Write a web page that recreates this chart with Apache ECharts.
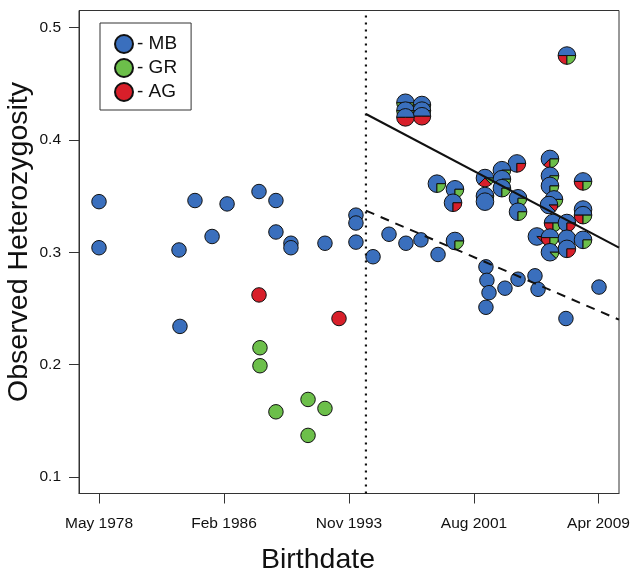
<!DOCTYPE html>
<html>
<head>
<meta charset="utf-8">
<script src="https://cdn.jsdelivr.net/npm/echarts@6/dist/echarts.min.js"></script>
<style>
  html, body { margin: 0; padding: 0; background: #fff; }
  #chart { width: 633px; height: 575px; }
</style>
</head>
<body>
<div id="chart"></div>
<script>
// Non-admixed individuals: birthdate (decimal year) and observed heterozygosity, by population
const mbYear = [1978.33, 1978.33, 1983.29, 1983.35, 1984.28, 1985.34, 1986.27, 1988.25, 1989.30, 1989.30,
                1990.23, 1990.23, 1992.34, 1994.26, 1994.26, 1994.26, 1995.32, 1996.31, 1997.36, 1998.29,
                1999.35, 2002.32, 2002.38, 2002.51, 2002.32, 2003.50, 2004.31, 2005.36, 2005.55, 2009.33,
                2007.28];
const mbHet  = [0.345, 0.304, 0.302, 0.234, 0.346, 0.314, 0.343, 0.354, 0.346, 0.318,
                0.308, 0.304, 0.308, 0.333, 0.326, 0.309, 0.296, 0.316, 0.308, 0.311,
                0.298, 0.287, 0.275, 0.264, 0.251, 0.268, 0.276, 0.279, 0.267, 0.269,
                0.241];
const grYear = [1988.31, 1988.31, 1991.29, 1989.30, 1992.34, 1991.29];
const grHet  = [0.215, 0.199, 0.169, 0.158, 0.161, 0.137];
const agYear = [1988.25, 1993.21];
const agHet  = [0.262, 0.241];

// Admixed individuals: birthdate, heterozygosity and ancestry proportions
const mixYear = [1997.33, 1997.33, 1997.33, 1998.35, 1998.35, 1998.35, 1999.28, 2000.40, 2000.28, 2000.40,
                 2002.26, 2002.26, 2002.26, 2003.31, 2003.31, 2003.31, 2004.24, 2004.31, 2004.31, 2006.29,
                 2006.29, 2006.29, 2006.54, 2006.23, 2008.34, 2008.34, 2008.34, 2006.48, 2007.34, 2005.48,
                 2006.29, 2007.34, 2008.34, 2006.29, 2007.34, 2007.34];
const mixHet  = [0.433, 0.426, 0.420, 0.431, 0.426, 0.421, 0.361, 0.356, 0.344, 0.310,
                 0.366, 0.350, 0.345, 0.373, 0.365, 0.357, 0.379, 0.348, 0.336, 0.383,
                 0.368, 0.359, 0.347, 0.342, 0.363, 0.338, 0.333, 0.326, 0.326, 0.314,
                 0.313, 0.312, 0.311, 0.300, 0.303, 0.475];
const mixMB   = [0.5, 0.5, 0.5, 0.5, 0.5, 0.5, 0.75, 0.75, 0.75, 0.75,
                 0.625, 0.875, 1, 0.75, 0.75, 0.75, 0.75, 0.75, 0.75, 0.625,
                 0.75, 0.75, 0.75, 0.875, 0.5, 1, 0.5, 0.5, 0.75, 0.875,
                 0.5, 1, 0.75, 0.875, 0.75, 0.5];
const mixGR   = [0.5, 0.5, 0, 0.5, 0.5, 0, 0.25, 0.25, 0, 0.25,
                 0.125, 0.125, 0, 0.25, 0.25, 0.25, 0, 0.25, 0.25, 0.25,
                 0.25, 0.25, 0.25, 0, 0.25, 0, 0.25, 0.25, 0, 0,
                 0.25, 0, 0.25, 0.125, 0, 0.25];
const mixAG   = [0, 0, 0.5, 0, 0, 0.5, 0, 0, 0.25, 0,
                 0.25, 0, 0, 0, 0, 0, 0.25, 0, 0, 0.125,
                 0, 0, 0, 0.125, 0.25, 0, 0.25, 0.25, 0.25, 0.125,
                 0.25, 0, 0, 0, 0.25, 0.25];

// Axis ticks
const xTickYears  = [1978.33, 1986.08, 1993.83, 2001.58, 2009.30];
const xTickLabels = ['May 1978', 'Feb 1986', 'Nov 1993', 'Aug 2001', 'Apr 2009'];
const yTicks = [0.1, 0.2, 0.3, 0.4, 0.5];

// Breakpoint and fitted trends after it
const breakYear = 1994.88;
const trendYears = [1994.88, 2010.57];
const trendAdmixed = [0.423, 0.304];
const trendPure = [0.337, 0.240];

const X_MIN = 1977.09, X_MAX = 2010.57;
const Y_MIN = 0.0853, Y_MAX = 0.5151;

const BLUE = '#3a6fbd', GREEN = '#6cbf4a', RED = '#d81f2a';
const FONT = '"Liberation Sans", Arial, Helvetica, sans-serif';

const pairs = (xs, ys) => xs.map((x, i) => [x, ys[i]]);

// Pies are drawn from highest to lowest so lower ones overlap upper ones
const mixData = mixYear.map((x, i) => [x, mixHet[i], mixMB[i], mixGR[i], mixAG[i]])
  .sort((a, b) => b[1] - a[1]);

function renderPie(params, api) {
  const c = api.coord([api.value(0), api.value(1)]);
  const r = 8.8;
  // slices run counter-clockwise from east: MB, AG, GR
  const fr = [api.value(2), api.value(4), api.value(3)];
  const cols = [BLUE, RED, GREEN];
  const children = [];
  let a = 0;
  for (let i = 0; i < 3; i++) {
    if (fr[i] <= 0) continue;
    if (fr[i] >= 0.999) {
      children.push({ type: 'circle', shape: { cx: c[0], cy: c[1], r: r },
        style: { fill: cols[i], stroke: '#111', lineWidth: 1 } });
      continue;
    }
    const sweep = fr[i] * Math.PI * 2;
    children.push({
      type: 'sector',
      shape: { cx: c[0], cy: c[1], r: r, r0: 0, startAngle: -a, endAngle: -(a + sweep), clockwise: false },
      style: { fill: cols[i], stroke: '#111', lineWidth: 1, lineJoin: 'round' }
    });
    a += sweep;
  }
  return { type: 'group', children: children };
}

const pointStyle = (color) => ({ color: color, borderColor: '#111', borderWidth: 1, opacity: 1 });

const chart = echarts.init(document.getElementById('chart'), null, { renderer: 'canvas' });

chart.setOption({
  animation: false,
  backgroundColor: '#fff',
  textStyle: { fontFamily: FONT },
  grid: {
    left: 79, right: 14, top: 10.5, bottom: 81.5,
    show: true, borderColor: '#333', borderWidth: 1, backgroundColor: 'transparent'
  },
  legend: {
    data: ['MB', 'GR', 'AG'],
    orient: 'vertical',
    left: 100, top: 23,
    padding: [11, 14, 8, 14],
    itemWidth: 18, itemHeight: 18, itemGap: 4,
    borderColor: '#333', borderWidth: 1,
    icon: 'circle',
    formatter: '- {name}',
    textStyle: { fontSize: 19, color: '#111', fontFamily: FONT, padding: [0, 0, 0, -1] }
  },
  xAxis: {
    type: 'value', min: X_MIN, max: X_MAX,
    axisLine: { show: true, onZero: false, lineStyle: { color: '#333', width: 1 } },
    axisTick: { show: true, length: 10, customValues: xTickYears, lineStyle: { color: '#333' } },
    axisLabel: {
      customValues: xTickYears, margin: 22, fontSize: 15.5, color: '#111', fontFamily: FONT,
      formatter: (v) => {
        let best = 0;
        xTickYears.forEach((t, i) => { if (Math.abs(t - v) < Math.abs(xTickYears[best] - v)) best = i; });
        return xTickLabels[best];
      }
    },
    splitLine: { show: false }
  },
  yAxis: {
    type: 'value', min: Y_MIN, max: Y_MAX,
    axisLine: { show: true, onZero: false, lineStyle: { color: '#333', width: 1 } },
    axisTick: { show: true, length: 10, customValues: yTicks, lineStyle: { color: '#333' } },
    axisLabel: {
      customValues: yTicks, margin: 18, fontSize: 15.5, color: '#111', fontFamily: FONT,
      formatter: (v) => v.toFixed(1)
    },
    splitLine: { show: false }
  },
  graphic: [
    { type: 'text', x: 318, y: 560, style: { text: 'Birthdate', fontSize: 28.5, fontFamily: FONT, fill: '#111',
        textAlign: 'center', textVerticalAlign: 'middle' } },
    { type: 'text', x: 19, y: 242, rotation: Math.PI / 2,
      style: { text: 'Observed Heterozygosity', fontSize: 28.5, fontFamily: FONT, fill: '#111',
        textAlign: 'center', textVerticalAlign: 'middle' } }
  ],
  series: [
    { name: 'MB', type: 'scatter', symbol: 'circle', symbolSize: 14.5, data: pairs(mbYear, mbHet),
      itemStyle: pointStyle(BLUE), z: 3 },
    { name: 'GR', type: 'scatter', symbol: 'circle', symbolSize: 14.5, data: pairs(grYear, grHet),
      itemStyle: pointStyle(GREEN), z: 3 },
    { name: 'AG', type: 'scatter', symbol: 'circle', symbolSize: 14.5, data: pairs(agYear, agHet),
      itemStyle: pointStyle(RED), z: 3 },
    { name: 'admixed', type: 'custom', renderItem: renderPie, data: mixData,
      encode: { x: 0, y: 1 }, z: 4 },
    { name: 'break', type: 'line', data: [[breakYear, Y_MIN], [breakYear, Y_MAX]], symbol: 'none',
      lineStyle: { color: '#111', width: 2.2, type: [2, 5] }, z: 5 },
    { name: 'trend admixed', type: 'line', data: pairs(trendYears, trendAdmixed), symbol: 'none',
      lineStyle: { color: '#111', width: 2 }, z: 5 },
    { name: 'trend pure', type: 'line', data: pairs(trendYears, trendPure), symbol: 'none',
      lineStyle: { color: '#111', width: 2, type: [9, 7] }, z: 5 }
  ]
});
</script>
</body>
</html>
